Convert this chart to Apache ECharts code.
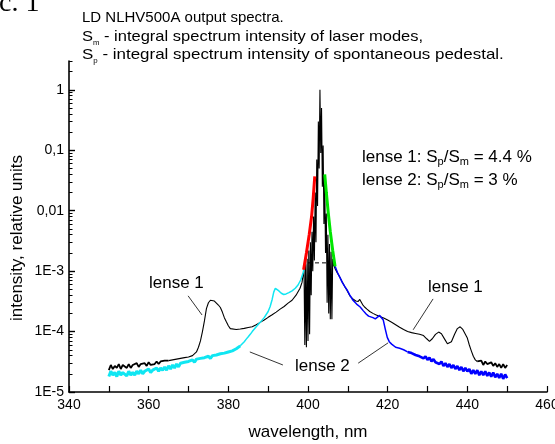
<!DOCTYPE html>
<html>
<head>
<meta charset="utf-8">
<script src="https://cdn.jsdelivr.net/npm/echarts@6/dist/echarts.min.js"></script>
<style>
  html, body { margin: 0; padding: 0; background: #ffffff; }
  #chart { width: 555px; height: 444px; }
</style>
</head>
<body>
<div id="chart"></div>
<script>
// Axis ticks
const xTicks = [340, 360, 380, 400, 420, 440, 460];
const yTicks = [1e-5, 1e-4, 1e-3, 0.01, 0.1, 1];
const yTickLabels = ['1E-5', '1E-4', '1E-3', '0,01', '0,1', '1'];

// Lense 1 spectrum (wavelength nm, relative intensity)
const lense1LeftNoisy = [
  [350.0,2.3e-5],[350.5,2.8e-5],[351.0,2.4e-5],[351.5,2.7e-5],[352.0,2.5e-5],[352.5,2.9e-5],
  [353.0,2.4e-5],[353.5,2.8e-5],[354.0,2.6e-5],[354.5,2.5e-5],[355.0,2.9e-5],[355.5,2.5e-5],
  [356.0,2.8e-5],[356.5,2.6e-5],[357.0,3.0e-5],[357.5,2.6e-5],[358.0,2.9e-5],[358.5,2.7e-5],
  [359.0,3.0e-5],[359.5,2.7e-5],[360.0,3.1e-5],[360.5,2.8e-5],[361.0,3.0e-5],[361.5,2.9e-5],
  [362.0,3.2e-5],[362.5,2.9e-5],[363.0,3.2e-5],[363.5,3.0e-5],[364.0,3.3e-5],[364.5,3.1e-5],
  [365.0,3.3e-5]
];
const lense1Left = [
  [365.0,3.3e-5],[365.5,3.2e-5],[366.0,3.4e-5],[366.5,3.3e-5],[367.0,3.5e-5],[367.5,3.4e-5],
  [368.0,3.6e-5],[368.5,3.5e-5],[369.0,3.7e-5],[369.5,3.6e-5],[370.0,3.8e-5],[370.5,3.8e-5],
  [371.0,4.0e-5],[371.5,4.2e-5],[372.0,4.6e-5],[372.5,5.5e-5],[373.0,7.0e-5],[373.5,1.0e-4],
  [374.0,1.5e-4],[374.5,2.4e-4],[375.0,3.0e-4],[375.5,3.3e-4],[376.0,3.35e-4],[376.5,3.2e-4],
  [377.0,3.0e-4],[377.5,2.75e-4],[378.0,2.5e-4],[378.5,2.1e-4],[379.0,1.7e-4],[379.5,1.45e-4],
  [380.0,1.25e-4],[380.5,1.12e-4],[381.0,1.07e-4],[382.0,1.08e-4],[383.0,1.1e-4],[384.0,1.13e-4],
  [385.0,1.17e-4],[385.5,1.25e-4],[386.0,1.2e-4],[387.0,1.3e-4],[388.0,1.42e-4],[389.0,1.55e-4],
  [390.0,1.72e-4],[391.0,1.9e-4],[392.0,2.1e-4],[393.0,2.35e-4],[394.0,2.6e-4],[395.0,2.95e-4],
  [396.0,3.3e-4],[397.0,4.0e-4],[398.0,5.2e-4],[398.5,6.5e-4]
];
const lense1Peak = [
  [399.0,1.1e-3],[399.2,6e-5],[399.4,1.3e-3],[399.6,5.5e-5],[399.8,1.6e-3],[400.0,7e-5],
  [400.2,2.2e-3],[400.4,9e-5],[400.6,3e-3],[400.8,4e-4],[401.0,4.5e-3],[401.2,1e-3],
  [401.4,8e-3],[401.6,1.5e-3],[401.8,0.02],[402.0,3e-3],[402.2,0.07],[402.4,0.012],
  [402.6,0.3],[402.8,0.05],[403.0,1.0],[403.2,0.09],[403.4,0.5],[403.6,0.025],
  [403.8,0.12],[404.0,6e-3],[404.2,0.03],[404.4,2e-3],[404.6,9e-3],[404.8,3e-4],
  [405.0,4e-3],[405.2,2e-4],[405.4,2.8e-3],[405.6,1.6e-4],[405.8,2.1e-3],[406.0,1.6e-4],
  [406.2,1.6e-3]
];
const lense1Right = [
  [406.4,1.3e-3],[406.8,1.1e-3],[407.4,9.2e-4],[408.0,7.9e-4],[408.6,6.6e-4],[409.2,5.6e-4],
  [409.8,4.8e-4],[410.5,3.9e-4],[411.2,3.5e-4],[412.0,3.2e-4],[412.6,3.15e-4],[413.0,3.4e-4],
  [413.3,3.3e-4],[413.7,2.8e-4],[414.2,2.55e-4],[414.8,2.35e-4],[415.5,2.15e-4],[416.3,2.0e-4],
  [417.0,1.9e-4],[418.0,1.78e-4],[419.0,1.68e-4],[420.0,1.55e-4],[421.0,1.43e-4],[422.0,1.3e-4],
  [423.0,1.18e-4],[424.0,1.08e-4],[425.0,1.0e-4],[426.0,9.6e-5],[427.0,9.3e-5],[428.0,9.0e-5],
  [429.0,8.6e-5],[429.8,7.6e-5],[430.5,6.9e-5],[431.2,7.6e-5],[432.0,9.0e-5],[432.8,9.8e-5],
  [433.5,9.2e-5],[434.3,7.5e-5],[435.0,6.3e-5],[435.5,6.1e-5],[436.0,6.8e-5],[436.8,9.0e-5],
  [437.5,1.12e-4],[438.2,1.2e-4],[438.8,1.1e-4],[439.5,9.0e-5],[440.0,7.8e-5],[440.5,6.0e-5],
  [441.0,4.8e-5],[441.5,3.9e-5],[442.0,3.4e-5],[442.5,3.2e-5]
];
const lense1RightNoisy = [
  [442.5,3.2e-5],[443.0,3.0e-5],[443.5,3.3e-5],
  [444.0,2.8e-5],[444.5,3.2e-5],[445.0,2.9e-5],[445.5,2.7e-5],[446.0,3.1e-5],[446.5,2.7e-5],
  [447.0,3.0e-5],[447.5,2.6e-5],[448.0,2.9e-5],[448.5,2.5e-5],[449.0,2.9e-5],[449.5,2.5e-5],
  [450.0,2.8e-5]
];

// Lense 2 spectrum, split into the coloured parts
const lense2LeftNoisy = [
  [350.0,1.8e-5],[350.5,2.2e-5],[351.0,1.9e-5],[351.5,2.1e-5],[352.0,1.8e-5],[352.5,2.2e-5],
  [353.0,1.9e-5],[353.5,2.1e-5],[354.0,2.0e-5],[354.5,1.85e-5],[355.0,2.2e-5],[355.5,1.9e-5],
  [356.0,2.1e-5],[356.5,1.9e-5],[357.0,2.2e-5],[357.5,2.0e-5],[358.0,2.3e-5],[358.5,2.0e-5],
  [359.0,2.2e-5],[359.5,2.1e-5],[360.0,2.4e-5],[360.5,2.1e-5],[361.0,2.3e-5],[361.5,2.2e-5],
  [362.0,2.5e-5],[362.5,2.2e-5],[363.0,2.5e-5],[363.5,2.3e-5],[364.0,2.6e-5],[364.5,2.3e-5],
  [365.0,2.7e-5],[365.5,2.4e-5],[366.0,2.8e-5],[366.5,2.5e-5],[367.0,2.9e-5],[367.5,2.6e-5],
  [368.0,3.0e-5],[368.5,2.8e-5],[369.0,3.1e-5],[369.5,2.9e-5],[370.0,3.2e-5],[370.5,3.0e-5],
  [371.0,3.4e-5],[371.5,3.1e-5],[372.0,3.5e-5],[372.5,3.3e-5],[373.0,3.6e-5],[373.5,3.4e-5],
  [374.0,3.7e-5],[374.5,3.5e-5],[375.0,3.9e-5],[375.5,3.6e-5],[376.0,4.0e-5],[376.5,3.8e-5],
  [377.0,4.1e-5],[377.5,3.9e-5],[378.0,4.3e-5],[378.5,4.1e-5],[379.0,4.4e-5],[379.5,4.3e-5],
  [380.0,4.6e-5],[380.5,4.5e-5],[381.0,4.8e-5],[381.5,4.9e-5],[382.0,5.2e-5],[382.5,5.5e-5],
  [383.0,5.8e-5]
];
const lense2Left = [
  [383.0,5.8e-5],[383.5,6.3e-5],[384.0,6.8e-5],[384.5,7.5e-5],[385.0,8.2e-5],[385.5,9.0e-5],
  [386.0,1.0e-4],[387.0,1.2e-4],[388.0,1.42e-4],[389.0,1.7e-4],[390.0,2.15e-4],[390.5,2.6e-4],
  [391.0,3.4e-4],[391.4,4.5e-4],[391.8,5.2e-4],[392.2,5.1e-4],[392.7,4.7e-4],[393.3,4.3e-4],
  [393.9,4.1e-4],[394.5,4.2e-4],[395.2,4.4e-4],[396.0,4.7e-4],[396.8,5.2e-4],[397.5,5.9e-4],
  [398.2,7.2e-4],[398.8,9.5e-4],[399.0,1.1e-3]
];
const lense2PedestalLeft = [
  [398.9,1.05e-3],[399.6,2.0e-3],[400.3,4.0e-3],[400.9,8e-3],[401.3,0.016],[401.7,0.037]
];
const lense2PedestalRight = [
  [404.2,0.04],[404.6,0.02],[405.1,9e-3],[405.6,4.5e-3],[406.2,2.2e-3],[406.8,1.2e-3]
];
const lense2Right = [
  [406.8,1.2e-3],[407.4,9.5e-4],[408.0,7.9e-4],[408.6,6.5e-4],[409.2,5.6e-4],[409.8,4.9e-4],
  [410.5,4.0e-4],[411.3,3.3e-4],[412.2,2.85e-4],[413.1,2.55e-4],[413.9,2.2e-4],[414.6,1.95e-4],
  [415.2,1.8e-4],[415.7,1.85e-4],[416.3,1.7e-4],[416.9,1.62e-4],[417.4,1.6e-4],[418.0,1.85e-4],
  [418.4,1.8e-4],[418.9,1.55e-4],[419.4,1.1e-4],[419.9,8.0e-5],[420.4,6.8e-5],[421.0,6.2e-5],
  [421.5,6.0e-5],[422.0,5.5e-5],[422.5,5.7e-5],[423.0,5.3e-5],[423.5,5.5e-5],[424.0,5.0e-5],
  [424.5,5.1e-5],[425.0,4.6e-5]
];
const lense2RightNoisy = [
  [425.0,4.6e-5],[425.5,4.9e-5],[426.0,4.4e-5],[426.5,4.6e-5],[427.0,4.1e-5],
  [427.5,4.4e-5],[428.0,3.9e-5],[428.5,4.1e-5],[429.0,3.6e-5],[429.5,3.9e-5],[430.0,3.4e-5],
  [430.5,3.7e-5],[431.0,3.2e-5],[431.5,3.5e-5],[432.0,3.1e-5],[432.5,3.3e-5],[433.0,2.9e-5],
  [433.5,3.2e-5],[434.0,2.7e-5],[434.5,3.0e-5],[435.0,2.6e-5],[435.5,2.9e-5],[436.0,2.5e-5],
  [436.5,2.8e-5],[437.0,2.4e-5],[437.5,2.7e-5],[438.0,2.3e-5],[438.5,2.6e-5],[439.0,2.2e-5],
  [439.5,2.5e-5],[440.0,2.2e-5],[440.5,2.4e-5],[441.0,2.0e-5],[441.5,2.3e-5],[442.0,2.0e-5],
  [442.5,2.3e-5],[443.0,1.9e-5],[443.5,2.2e-5],[444.0,1.9e-5],[444.5,2.2e-5],[445.0,1.85e-5],
  [445.5,2.1e-5],[446.0,1.8e-5],[446.5,2.1e-5],[447.0,1.75e-5],[447.5,2.0e-5],[448.0,1.7e-5],
  [448.5,2.0e-5],[449.0,1.65e-5],[449.5,1.95e-5],[450.0,1.7e-5]
];

// Pedestal level used for the integration split
const pedestalLevel = [[400.0,1.37e-3],[404.8,1.37e-3]];

// Leader lines from the curve labels (data coordinates)
const leaderLense1Left = [[369.9,3.9e-4],[373.4,1.88e-4]];
const leaderLense1Right = [[431.4,3.47e-4],[426.4,1.07e-4]];
const leaderLense2Left = [[393.7,2.8e-5],[385.4,4.6e-5]];
const leaderLense2Right = [[412.6,3.0e-5],[420.1,6.5e-5]];

const FONT = '"Liberation Sans", Arial, Helvetica, sans-serif';
const BLACK = '#000000';
const CYAN = '#10e6f2';
const BLUE = '#0000ff';

// Minor ticks of the log axis at 2..9 of every decade, up to the axis end
const yMinor = [];
for (let e = -5; e <= 0; e++) {
  for (let k = 2; k <= 9; k++) {
    const v = k * Math.pow(10, e);
    if (v <= 3) yMinor.push(v);
  }
}

function yLabel(v) {
  for (let i = 0; i < yTicks.length; i++) {
    if (Math.abs(Math.log10(v) - Math.log10(yTicks[i])) < 1e-6) return yTickLabels[i];
  }
  return '';
}

function lineSeries(data, color, width, extra) {
  return Object.assign({
    type: 'line',
    data: data,
    xAxisIndex: 0,
    yAxisIndex: 0,
    symbol: 'none',
    showSymbol: false,
    silent: true,
    animation: false,
    lineStyle: { color: color, width: width },
    itemStyle: { color: color },
    z: 2
  }, extra || {});
}

function text(x, y, content, size, style, el) {
  return Object.assign({
    type: 'text',
    x: x,
    y: y,
    silent: true,
    style: Object.assign({
      text: content,
      fill: '#000000',
      fontFamily: FONT,
      fontSize: size,
      verticalAlign: 'middle',
      align: 'left'
    }, style || {})
  }, el || {});
}

const smallSub = { fontSize: 7, lineHeight: 7, verticalAlign: 'bottom', fontFamily: FONT, fill: '#000' };
const bigSub = { fontSize: 11, lineHeight: 11, verticalAlign: 'bottom', fontFamily: FONT, fill: '#000' };

const chart = echarts.init(document.getElementById('chart'), null, { renderer: 'canvas' });

chart.setOption({
  animation: false,
  backgroundColor: '#ffffff',
  grid: { left: 69, right: 8, top: 61, bottom: 52, containLabel: false, outerBoundsMode: 'none' },
  xAxis: {
    type: 'value',
    min: xTicks[0],
    max: xTicks[xTicks.length - 1],
    interval: 20,
    axisLine: { show: true, onZero: false, lineStyle: { color: '#000', width: 1.6 } },
    axisTick: { show: true, inside: true, length: 6, lineStyle: { color: '#000', width: 1.2 } },
    minorTick: { show: true, splitNumber: 2, length: 6, lineStyle: { color: '#000', width: 1.2 } },
    splitLine: { show: false },
    minorSplitLine: { show: false },
    axisLabel: { color: '#000', fontFamily: FONT, fontSize: 14, margin: 6, showMinLabel: true, showMaxLabel: true }
  },
  yAxis: [
    {
      type: 'log',
      logBase: 10,
      min: 1e-5,
      max: 3,
      axisLine: { show: true, onZero: false, lineStyle: { color: '#000', width: 1.6 } },
      axisTick: { show: true, inside: true, length: 6, customValues: yTicks, lineStyle: { color: '#000', width: 1.4 } },
      splitLine: { show: false },
      axisLabel: { color: '#000', fontFamily: FONT, fontSize: 14, margin: 5, customValues: yTicks, formatter: yLabel }
    },
    {
      type: 'log',
      logBase: 10,
      min: 1e-5,
      max: 3,
      position: 'left',
      offset: 0,
      axisLine: { show: false },
      axisTick: { show: true, inside: true, length: 3.5, customValues: yMinor, lineStyle: { color: '#000', width: 1 } },
      splitLine: { show: false },
      axisLabel: { show: false }
    }
  ],
  series: [
    lineSeries(lense1LeftNoisy, BLACK, 1.8),
    lineSeries(lense1Left.concat(lense1Peak, lense1Right), BLACK, 1.1),
    lineSeries(lense1RightNoisy, BLACK, 1.8),
    lineSeries(pedestalLevel, BLACK, 1, { lineStyle: { color: BLACK, width: 1, type: [4, 3] } }),
    lineSeries(lense2LeftNoisy, CYAN, 3, { z: 3 }),
    lineSeries(lense2Left, CYAN, 1.5, { z: 3 }),
    lineSeries(lense2Right, BLUE, 1.5, { z: 3 }),
    lineSeries(lense2RightNoisy, BLUE, 2.6, { z: 3 }),
    lineSeries(lense2PedestalLeft, '#ff0000', 3, { z: 4 }),
    lineSeries(lense2PedestalRight, '#00e600', 3, { z: 4 }),
    lineSeries(leaderLense1Left, BLACK, 0.8, { z: 5 }),
    lineSeries(leaderLense1Right, BLACK, 0.8, { z: 5 }),
    lineSeries(leaderLense2Left, BLACK, 0.8, { z: 5 }),
    lineSeries(leaderLense2Right, BLACK, 0.8, { z: 5 })
  ],
  graphic: [
    text(-1, 4, 'c. 1', 28, { fontFamily: '"Liberation Serif", "Times New Roman", serif' }),
    text(82, 18, 'LD NLHV500A output spectra.', 15),
    text(82, 37, 'S{s|m} - integral spectrum intensity of laser modes,', 15,
      { lineHeight: 19, rich: { s: smallSub } }, { scaleX: 1.1 }),
    text(82, 55, 'S{s|p} - integral spectrum intensity of spontaneous pedestal.', 15,
      { lineHeight: 19, rich: { s: smallSub } }, { scaleX: 1.13 }),
    text(362, 157, 'lense 1: S{s|p}/S{s|m} = 4.4 %', 17, { lineHeight: 21, rich: { s: bigSub } }),
    text(362, 180, 'lense 2: S{s|p}/S{s|m} = 3 %', 17, { lineHeight: 21, rich: { s: bigSub } }),
    text(149, 283, 'lense 1', 17),
    text(428, 287, 'lense 1', 17),
    text(295, 366, 'lense 2', 17),
    text(308, 432, 'wavelength, nm', 17, { align: 'center' }),
    text(17, 238, 'intensity, relative units', 17, { align: 'center' }, { rotation: Math.PI / 2 })
  ]
});
</script>
</body>
</html>
